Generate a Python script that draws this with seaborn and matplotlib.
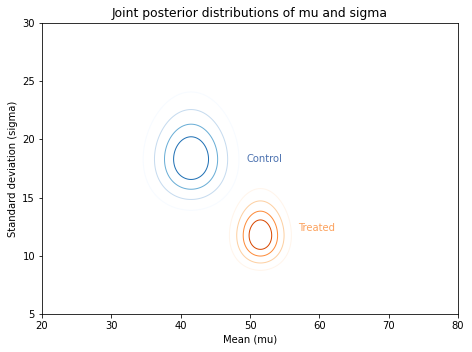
import numpy as np
import seaborn as sns
import matplotlib.pyplot as plt

# posterior summaries (mu ~ normal, sigma ~ lognormal)
groups = ["Control", "Treated"]
mu_mean = [41.5, 51.5]
mu_sd = [3.40, 2.20]
sigma_median = [18.3, 11.75]
log_sigma_sd = [0.135, 0.145]
cmaps = ["Blues", "Oranges"]
label_colors = ["#4c72b0", "#fca25e"]
label_pos = [(49.5, 18.3), (57.0, 12.35)]

# contour levels as a fraction of the peak density
levels = [0.127, 0.30, 0.53, 0.76]

plt.rcParams["font.family"] = ["DejaVu Sans"]

fig, ax = plt.subplots(figsize=(472 / 72, 352 / 72), dpi=72)

mu_grid = np.linspace(20, 80, 400)
sigma_grid = np.linspace(5, 30, 400)
MU, SIG = np.meshgrid(mu_grid, sigma_grid)

for i, name in enumerate(groups):
    z_mu = (MU - mu_mean[i]) / mu_sd[i]
    z_sig = (np.log(SIG) - np.log(sigma_median[i])) / log_sigma_sd[i]
    dens = np.exp(-0.5 * (z_mu ** 2 + z_sig ** 2))
    cmap = sns.color_palette(cmaps[i], as_cmap=True)
    colors = [cmap(v) for v in [0.0, 0.25, 0.5, 0.75]]
    ax.contour(MU, SIG, dens, levels=levels, colors=colors, linewidths=1)
    ax.text(label_pos[i][0], label_pos[i][1], name, color=label_colors[i],
            fontsize=10, va="center")

ax.set_xlim(20, 80)
ax.set_ylim(5, 30)
ax.set_xlabel("Mean (mu)", fontsize=10)
ax.set_ylabel("Standard deviation (sigma)", fontsize=10)
ax.set_title("Joint posterior distributions of mu and sigma", fontsize=12.4)
ax.tick_params(labelsize=10)

fig.subplots_adjust(left=42 / 472, right=458 / 472, top=1 - 23 / 352,
                    bottom=1 - 314 / 352)
fig.savefig("out.png", dpi=72)
